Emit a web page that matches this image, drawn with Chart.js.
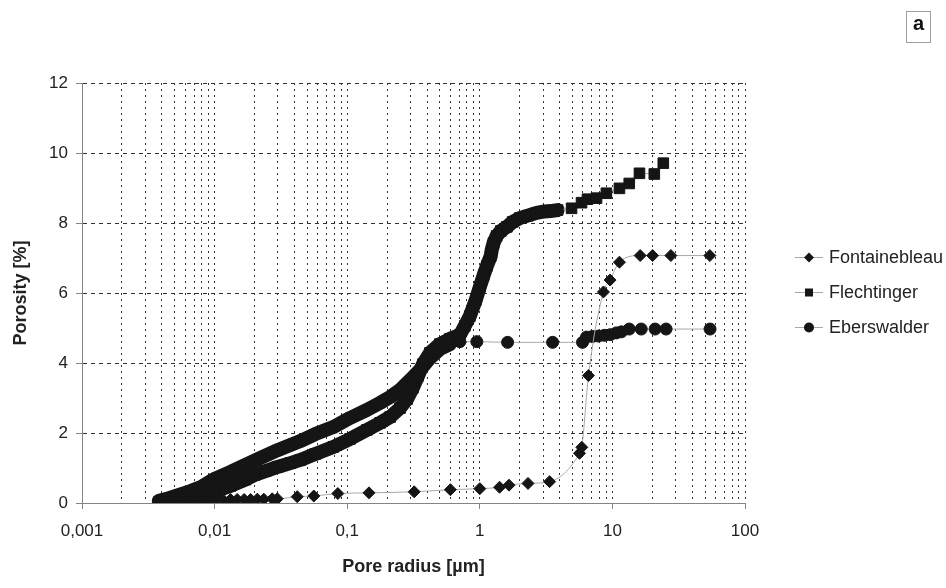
<!DOCTYPE html>
<html>
<head>
<meta charset="utf-8">
<script src="https://cdn.jsdelivr.net/npm/chart.js@4.4.0/dist/chart.umd.min.js"></script>
<style>
  html, body { margin: 0; padding: 0; background: #fff; }
  #wrap { position: relative; width: 946px; height: 588px; }
  #tag {
    position: absolute; left: 906px; top: 11px; width: 23px; height: 30px;
    border: 1px solid #a0a0a0; color: #111; text-align: center; line-height: 30px;
    font: bold 20px "Liberation Sans", Arial, sans-serif;
  }
</style>
</head>
<body>
<div id="wrap">
  <canvas id="poreChart" width="946" height="588"></canvas>
  <div id="tag">a</div>
</div>
<script>
  // Serien
  const seriesNames = ['Fontainebleau', 'Flechtinger', 'Eberswalder'];

  // Fontainebleau (Rauten)
  const fontRadius = [0.0039, 0.0045, 0.0052, 0.006, 0.007, 0.008, 0.009, 0.0102, 0.0116, 0.0132,
    0.0148, 0.0167, 0.0187, 0.021, 0.0235, 0.0272, 0.0297, 0.042, 0.056, 0.085, 0.146, 0.32,
    0.6, 1.0, 1.41, 1.66, 2.31, 3.36, 5.65, 5.88, 6.6, 8.56, 9.6, 11.3, 16.2, 20.1, 27.6, 54.3];
  const fontPorosity = [0.03, 0.04, 0.05, 0.06, 0.07, 0.08, 0.08, 0.09, 0.09, 0.1,
    0.1, 0.1, 0.1, 0.11, 0.11, 0.12, 0.12, 0.18, 0.2, 0.27, 0.29, 0.32,
    0.38, 0.41, 0.45, 0.51, 0.56, 0.61, 1.42, 1.59, 3.64, 6.03, 6.37, 6.88, 7.07, 7.07, 7.07, 7.07];

  // Flechtinger (Quadrate)
  const flechRadius = [0.0038, 0.0043, 0.0051, 0.0066, 0.0079, 0.01, 0.0132, 0.0171, 0.02, 0.0242,
    0.0298, 0.0373, 0.0443, 0.0574, 0.0785, 0.105, 0.141, 0.177, 0.211, 0.25,
    0.283, 0.313, 0.342, 0.373, 0.421, 0.5, 0.595, 0.707, 0.771, 0.841,
    0.933, 1.0, 1.07, 1.13, 1.21, 1.23, 1.27, 1.34, 1.44, 1.6,
    1.77, 2.0, 2.3, 2.68, 3.08, 3.42, 3.86, 4.92, 5.85, 6.49,
    7.59, 9.01, 11.3, 13.4, 16.0, 20.7, 24.2];
  const flechPorosity = [0.03, 0.06, 0.11, 0.2, 0.24, 0.33, 0.49, 0.67, 0.8, 0.91,
    1.03, 1.14, 1.23, 1.4, 1.6, 1.83, 2.09, 2.29, 2.46, 2.71,
    2.97, 3.29, 3.63, 3.97, 4.29, 4.54, 4.69, 4.8, 5.06, 5.34,
    5.8, 6.17, 6.51, 6.77, 7.06, 7.23, 7.43, 7.63, 7.77, 7.89,
    8.03, 8.14, 8.21, 8.29, 8.33, 8.34, 8.37, 8.42, 8.58, 8.68,
    8.71, 8.85, 8.99, 9.13, 9.42, 9.4, 9.71];
  const flechDenseEnd = 46;   // bis hierhin liegen die Punkte dicht aneinander

  // Eberswalder (Kreise)
  const eberRadius = [0.0038, 0.0043, 0.0051, 0.0066, 0.0079, 0.01, 0.0132, 0.0171, 0.0222, 0.0298,
    0.0373, 0.0443, 0.0574, 0.0785, 0.105, 0.141, 0.177, 0.211, 0.25, 0.298,
    0.354, 0.421, 0.5, 0.595, 0.707, 0.95, 1.62, 3.54, 5.95, 6.38,
    7.08, 7.85, 8.71, 9.66, 10.7, 11.7, 13.4, 16.5, 21.0, 25.4, 54.5];
  const eberPorosity = [0.06, 0.11, 0.2, 0.34, 0.46, 0.69, 0.89, 1.09, 1.29, 1.51,
    1.66, 1.77, 1.97, 2.17, 2.43, 2.66, 2.86, 3.03, 3.23, 3.51,
    3.8, 4.14, 4.4, 4.54, 4.61, 4.61, 4.59, 4.59, 4.59, 4.74,
    4.76, 4.77, 4.79, 4.81, 4.86, 4.89, 4.97, 4.97, 4.97, 4.97, 4.97];
  const eberDenseEnd = 23;

  // Achsen
  const decades = [0.001, 0.01, 0.1, 1, 10, 100];
  const xTickLabels = ['0,001', '0,01', '0,1', '1', '10', '100'];
  const yTicks = [0, 2, 4, 6, 8, 10, 12];

  const FONT = '"Liberation Sans", Arial, sans-serif';
  const MARK = '#151515';
  const LINE = '#a8a8a8';
  const GRID = '#333333';
  const AXIS = '#858585';

  // Gitterlinien bei 1..9 je Dekade
  const gridRadii = [];
  decades.forEach(function (d, i) {
    gridRadii.push(d);
    if (i < decades.length - 1) {
      for (let m = 2; m <= 9; m++) gridRadii.push(+(d * m).toPrecision(3));
    }
  });

  function toPoints(xs, ys) {
    return xs.map(function (x, i) { return { x: x, y: ys[i] }; });
  }

  // dichte Abschnitte als dicker Strang, sonst dünne graue Linie
  function denseSegment(end) {
    return {
      borderWidth: function (c) { return c.p1DataIndex <= end ? 14 : 1; },
      borderColor: function (c) { return c.p1DataIndex <= end ? MARK : LINE; }
    };
  }

  const legendStyles = [
    { style: 'rectRot', r: 5 },
    { style: 'rect', r: 4 },
    { style: 'circle', r: 5 }
  ];

  function drawMarker(ctx, style, x, y, r) {
    ctx.beginPath();
    if (style === 'circle') {
      ctx.arc(x, y, r, 0, Math.PI * 2);
    } else if (style === 'rect') {
      ctx.rect(x - r, y - r, 2 * r, 2 * r);
    } else {
      ctx.moveTo(x - r, y); ctx.lineTo(x, y - r); ctx.lineTo(x + r, y); ctx.lineTo(x, y + r);
      ctx.closePath();
    }
    ctx.fill();
  }

  // Legende rechts (Linie mit Marker in der Mitte)
  const sideLegend = {
    id: 'sideLegend',
    afterDraw: function (chart) {
      const ctx = chart.ctx;
      ctx.save();
      chart.data.datasets.forEach(function (ds, i) {
        const y = 257 + i * 35;
        ctx.strokeStyle = LINE;
        ctx.lineWidth = 1;
        ctx.beginPath(); ctx.moveTo(795, y + 0.5); ctx.lineTo(823, y + 0.5); ctx.stroke();
        ctx.fillStyle = MARK;
        drawMarker(ctx, legendStyles[i].style, 809, y + 0.5, legendStyles[i].r);
        ctx.fillStyle = '#222';
        ctx.font = '18px ' + FONT;
        ctx.textBaseline = 'middle';
        ctx.textAlign = 'left';
        ctx.fillText(ds.label, 829, y + 1);
      });
      ctx.restore();
    }
  };

  const ctx = document.getElementById('poreChart').getContext('2d');
  new Chart(ctx, {
    type: 'scatter',
    data: {
      datasets: [
        {
          label: seriesNames[0],
          data: toPoints(fontRadius, fontPorosity),
          showLine: true,
          cubicInterpolationMode: 'monotone',
          borderColor: LINE,
          borderWidth: 1,
          pointStyle: 'rectRot',
          pointRadius: 6,
          pointBackgroundColor: MARK,
          pointBorderColor: MARK,
          pointBorderWidth: 1
        },
        {
          label: seriesNames[1],
          data: toPoints(flechRadius, flechPorosity),
          showLine: true,
          borderColor: LINE,
          borderWidth: 1,
          borderCapStyle: 'round',
          borderJoinStyle: 'round',
          segment: denseSegment(flechDenseEnd),
          pointStyle: 'rect',
          pointRadius: 7.5,
          pointBackgroundColor: MARK,
          pointBorderColor: MARK,
          pointBorderWidth: 1
        },
        {
          label: seriesNames[2],
          data: toPoints(eberRadius, eberPorosity),
          showLine: true,
          borderColor: LINE,
          borderWidth: 1,
          borderCapStyle: 'round',
          borderJoinStyle: 'round',
          segment: denseSegment(eberDenseEnd),
          pointStyle: 'circle',
          pointRadius: 6,
          pointBackgroundColor: MARK,
          pointBorderColor: MARK,
          pointBorderWidth: 1
        }
      ]
    },
    options: {
      responsive: false,
      animation: false,
      layout: { padding: { top: 83, right: 201, left: 0, bottom: 0 } },
      plugins: {
        legend: { display: false },
        tooltip: { enabled: false }
      },
      scales: {
        x: {
          type: 'logarithmic',
          min: 0.001,
          max: 100,
          afterBuildTicks: function (s) {
            s.ticks = gridRadii.map(function (v) { return { value: v }; });
          },
          afterFit: function (s) { s.height = 85; },
          ticks: {
            autoSkip: false,
            maxRotation: 0,
            padding: 12,
            color: '#222',
            font: { family: FONT, size: 17 },
            callback: function (v) {
              const k = decades.indexOf(v);
              return k >= 0 ? xTickLabels[k] : '';
            }
          },
          grid: {
            color: function (c) { return c.index === 0 ? 'transparent' : GRID; },
            lineWidth: 1,
            tickLength: 6,
            tickColor: function (c) {
              return c.tick && decades.indexOf(c.tick.value) >= 0 ? AXIS : 'transparent';
            }
          },
          border: { color: AXIS, width: 1, dash: [2, 4] },
          title: {
            display: true,
            text: 'Pore radius [µm]',
            color: '#222',
            font: { family: FONT, size: 18, weight: 'bold' },
            padding: { top: 0, bottom: 10 }
          }
        },
        y: {
          min: 0,
          max: 12,
          afterBuildTicks: function (s) {
            s.ticks = yTicks.map(function (v) { return { value: v }; });
          },
          afterFit: function (s) { s.width = 82; },
          ticks: {
            padding: 8,
            color: '#222',
            font: { family: FONT, size: 17 },
            callback: function (v) { return String(v); }
          },
          grid: {
            color: function (c) { return c.index === 0 ? 'transparent' : GRID; },
            lineWidth: 1,
            tickLength: 6,
            tickColor: AXIS
          },
          border: { color: AXIS, width: 1, dash: [4, 4] },
          title: {
            display: true,
            text: 'Porosity [%]',
            color: '#222',
            font: { family: FONT, size: 18, weight: 'bold' },
            padding: { top: 10, bottom: 0 }
          }
        }
      }
    },
    plugins: [sideLegend]
  });
</script>
</body>
</html>
